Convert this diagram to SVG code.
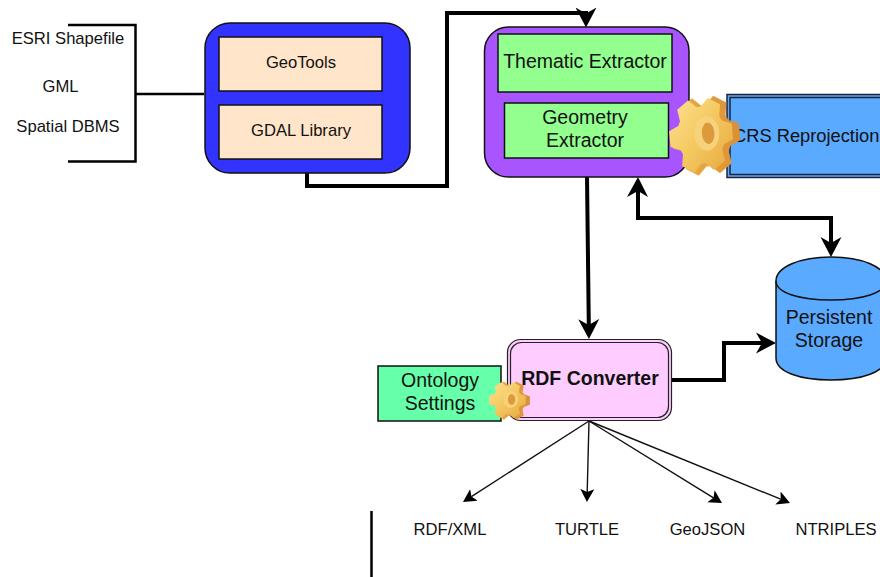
<svg xmlns="http://www.w3.org/2000/svg" width="880" height="577" viewBox="0 0 880 577">
<style>
text{font-family:"Liberation Sans",Arial,sans-serif;fill:#111;text-anchor:middle}
.s16{font-size:16.6px}.s18{font-size:19.5px}
.box{stroke:#111;stroke-width:1.5}
.heavy{fill:none;stroke:#000;stroke-width:4}
.thin{fill:none;stroke:#111;stroke-width:1.4;marker-end:url(#ah)}
.hv{marker-end:url(#AH)}
</style>
<defs>
<marker id="AH" markerUnits="userSpaceOnUse" viewBox="0 -11 21 22" markerWidth="21" markerHeight="22" refX="6" refY="0" orient="auto"><path d="M0,-10.5L20,0L0,10.5L6,0Z" fill="#000"/></marker>
<marker id="ah" markerUnits="userSpaceOnUse" viewBox="0 -8 14 16" markerWidth="14" markerHeight="16" refX="3" refY="0" orient="auto"><path d="M0,-7L13,0L0,7L3,0Z" fill="#000"/></marker>
<linearGradient id="gf" x1="0" y1="0" x2="1" y2="1"><stop offset="0" stop-color="#fde290"/><stop offset=".5" stop-color="#f4c860"/><stop offset="1" stop-color="#e6a83f"/></linearGradient>
<linearGradient id="gb" x1="0" y1="0" x2="1" y2="0"><stop offset="0" stop-color="#eeb24c"/><stop offset="1" stop-color="#d98f34"/></linearGradient>
<g id="gear">
<path transform="translate(3,1)" fill="url(#gb)" d="M24.5,-11.4L35.2,-7.5L35.2,7.5L24.5,11.4L22.1,15.5L24.1,26.8L11.1,34.2L2.4,26.9L-2.4,26.9L-11.1,34.2L-24.1,26.8L-22.1,15.5L-24.5,11.4L-35.2,7.5L-35.2,-7.5L-24.5,-11.4L-22.1,-15.5L-24.1,-26.8L-11.1,-34.2L-2.4,-26.9L2.4,-26.9L11.1,-34.2L24.1,-26.8L22.1,-15.5Z"/>
<path transform="translate(-2,0) scale(.93)" fill="url(#gf)" d="M24.5,-11.4L35.2,-7.5L35.2,7.5L24.5,11.4L22.1,15.5L24.1,26.8L11.1,34.2L2.4,26.9L-2.4,26.9L-11.1,34.2L-24.1,26.8L-22.1,15.5L-24.5,11.4L-35.2,7.5L-35.2,-7.5L-24.5,-11.4L-22.1,-15.5L-24.1,-26.8L-11.1,-34.2L-2.4,-26.9L2.4,-26.9L11.1,-34.2L24.1,-26.8L22.1,-15.5Z"/>
<ellipse cx="4" cy="-1" rx="13" ry="15" fill="#f7d27a"/>
<ellipse cx="5.500" cy="-1" rx="6.500" ry="9.500" fill="#dd9a3c"/>
</g>
</defs>
<rect width="880" height="577" fill="#fff"/>
<g id="connectors">
<path d="M68,25H135.5V161.5H68" fill="none" stroke="#000" stroke-width="2.5"/>
<path d="M136,94H204" fill="none" stroke="#000" stroke-width="2.5"/>
<path class="heavy hv" d="M307,173V186H447V13H586V13.5"/>
<path class="heavy hv" d="M587,177L588.8,325"/>
<path class="heavy hv" d="M638,191V218H831V243"/>
<path d="M638,177L648,197L638,191L627,197Z" fill="#000"/>
<path class="heavy hv" d="M672,380H724V343H762"/>
<path class="thin" d="M589,421L471.4,496.6"/>
<path class="thin" d="M589,421L587.2,492"/>
<path class="thin" d="M589,421L713.5,497.8"/>
<path class="thin" d="M589,421L780.7,499.2"/>
<path d="M371.5,511V577" stroke="#000" stroke-width="2.5"/>
</g>
<g id="inputs">
<text class="s16" x="68" y="44">ESRI Shapefile</text>
<text class="s16" x="60.500" y="92">GML</text>
<text class="s16" x="68" y="132">Spatial DBMS</text>
</g>
<g id="libraries"><rect x="205" y="23" width="205" height="150" rx="25" fill="#3333ff" class="box"/></g>
<g id="geotools"><rect x="219" y="37" width="163" height="54" fill="#ffe5c9" class="box"/><text class="s16" x="301" y="68">GeoTools</text></g>
<g id="gdal"><rect x="219" y="105" width="163" height="54" fill="#ffe5c9" class="box"/><text class="s16" x="301" y="136">GDAL Library</text></g>
<g id="extractor"><rect x="484.500" y="27" width="204.500" height="150" rx="24" fill="#a855ff" class="box"/></g>
<g id="thematic"><rect x="498" y="34" width="174" height="58" fill="#92ff8e" class="box"/><text class="s18" x="585" y="68">Thematic Extractor</text></g>
<g id="geometry"><rect x="504.500" y="103" width="164" height="55" fill="#92ff8e" class="box"/><text class="s18" x="585" y="124">Geometry</text><text class="s18" x="585" y="147">Extractor</text></g>
<g id="crs"><rect x="727" y="94.500" width="160" height="83" fill="#5aaaff" stroke="#223" stroke-width="1.5"/><rect x="730" y="97.500" width="160" height="77" fill="none" stroke="#223" stroke-width="1.5"/><text x="733" y="141.500" style="text-anchor:start;font-size:18.3px">CRS Reprojection</text></g>
<g id="gear-large"><use href="#gear" transform="translate(703,135) scale(.96,1.14) rotate(-6)"/></g>
<g id="storage"><path d="M776,281C776,267 800,257 831,257S886,267 886,281V358C886,372 862,380 831,380S776,372 776,358Z" fill="#5aaaff" class="box"/><path d="M776,281C776,293 800,300 831,300S886,293 886,281" fill="none" class="box"/><text class="s18" x="829" y="324">Persistent</text><text class="s18" x="829" y="347">Storage</text></g>
<g id="rdf"><rect x="507.500" y="339.500" width="164" height="81" rx="13" fill="#ffccff" stroke="#222" stroke-width="1.2"/><rect x="510.500" y="342.500" width="158" height="75" rx="11" fill="none" stroke="#222" stroke-width="1.2"/><text class="s18" x="590" y="385" style="font-weight:bold">RDF Converter</text></g>
<g id="ontology"><rect x="378" y="366" width="123" height="55" fill="#66ffaa" class="box"/><text class="s18" x="440" y="387">Ontology</text><text class="s18" x="440" y="410">Settings</text></g>
<g id="gear-small"><use href="#gear" transform="translate(508.500,400) scale(.56)"/></g>
<g id="outputs">
<text class="s16" x="450" y="535">RDF/XML</text>
<text class="s16" x="587" y="535">TURTLE</text>
<text class="s16" x="707.500" y="535">GeoJSON</text>
<text class="s16" x="836" y="535">NTRIPLES</text>
</g>
</svg>
